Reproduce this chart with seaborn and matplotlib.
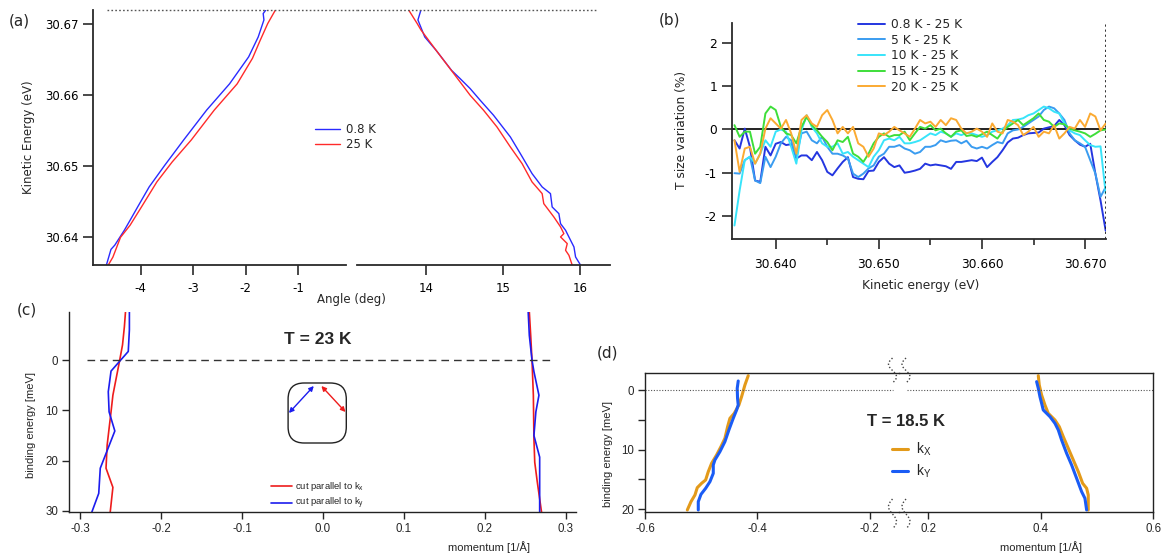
import numpy as np
import matplotlib
matplotlib.use("Agg")
import matplotlib.pyplot as plt
import seaborn as sns
from matplotlib.transforms import Affine2D
from matplotlib.patches import FancyBboxPatch, FancyArrowPatch
from matplotlib.lines import Line2D
from matplotlib.ticker import FormatStrFormatter

# ---------------- data: panel (a) ----------------
a_blue_left_angle = [-4.655, -4.568, -4.495, -4.313, -4.204, -4.058, -3.840, -3.548,
                     -3.184, -2.747, -2.310, -1.946, -1.764, -1.655, -1.669, -1.618]
a_blue_left_ke = [30.6361, 30.6383, 30.6389, 30.6410, 30.6424, 30.6443, 30.6471, 30.6501,
                  30.6537, 30.6579, 30.6616, 30.6654, 30.6682, 30.6706, 30.6715, 30.6720]
a_red_left_angle = [-4.619, -4.532, -4.386, -4.204, -3.985, -3.694, -3.403, -3.039,
                    -2.602, -2.165, -1.873, -1.728, -1.582, -1.436]
a_red_left_ke = [30.6361, 30.6372, 30.6400, 30.6417, 30.6443, 30.6478, 30.6506, 30.6537,
                 30.6579, 30.6616, 30.6652, 30.6677, 30.6701, 30.6720]
a_blue_right_angle = [13.935, 13.896, 13.985, 14.134, 14.333, 14.443, 14.574, 14.704,
                      14.878, 15.096, 15.226, 15.378, 15.509, 15.617, 15.639, 15.726,
                      15.748, 15.813, 15.878, 15.922, 15.943, 16.009]
a_blue_right_ke = [30.6720, 30.6706, 30.6682, 30.6663, 30.6635, 30.66235, 30.66094, 30.65930,
                   30.65718, 30.65413, 30.65178, 30.64897, 30.64709, 30.64615, 30.64427, 30.64333,
                   30.64192, 30.64099, 30.63958, 30.63864, 30.63723, 30.63606]
a_red_right_angle = [13.776, 13.886, 13.935, 14.134, 14.358, 14.443, 14.574, 14.748,
                     14.922, 15.096, 15.248, 15.378, 15.509, 15.530, 15.661, 15.748,
                     15.791, 15.748, 15.835, 15.813, 15.857, 15.900]
a_red_right_ke = [30.6720, 30.6701, 30.6692, 30.6663, 30.6631, 30.66188, 30.66000, 30.65789,
                  30.65554, 30.65272, 30.65038, 30.64779, 30.64615, 30.64474, 30.64286, 30.64146,
                  30.64052, 30.64005, 30.63911, 30.63817, 30.63746, 30.63606]

# ---------------- data: panel (b) ----------------
energy_b = np.round(np.arange(30.636, 30.67201, 0.0005), 4)
b_labels = ["0.8 K - 25 K", "5 K - 25 K", "10 K - 25 K", "15 K - 25 K", "20 K - 25 K"]
b_colors = ["#2436e0", "#3a9cf0", "#38e4fa", "#3ede3a", "#fbaa32"]
b_08K = [-0.25, -0.44, 0.02, -0.40, -1.18, -1.21, -0.40, -0.60, -0.33, -0.29,
         -0.36, -0.34, -0.67, -0.60, -0.60, -0.71, -0.52, -0.71, -0.98, -1.06,
         -0.90, -0.75, -0.64, -1.10, -1.14, -1.15, -0.96, -0.95, -0.75, -0.64,
         -0.79, -0.87, -0.83, -1.00, -0.98, -0.95, -0.91, -0.79, -0.83, -0.81,
         -0.83, -0.85, -0.91, -0.75, -0.75, -0.73, -0.71, -0.73, -0.65, -0.87,
         -0.75, -0.64, -0.48, -0.30, -0.21, -0.19, -0.13, -0.09, -0.08, -0.07,
         0.02, 0.05, 0.08, 0.22, 0.10, -0.13, -0.25, -0.35, -0.40, -0.33,
         -1.02, -1.64, -2.34]
b_5K = [-1.01, -1.02, -0.71, -0.63, -1.18, -1.24, -0.63, -0.87, -0.63, -0.32,
        -0.17, -0.25, -0.63, -0.09, -0.05, -0.25, -0.32, -0.17, -0.40, -0.56,
        -0.56, -0.60, -0.67, -1.02, -1.10, -1.02, -0.90, -0.83, -0.63, -0.56,
        -0.40, -0.40, -0.36, -0.44, -0.48, -0.56, -0.52, -0.40, -0.40, -0.36,
        -0.25, -0.29, -0.26, -0.25, -0.32, -0.26, -0.40, -0.44, -0.40, -0.44,
        -0.36, -0.29, -0.32, -0.09, -0.02, 0.00, 0.06, 0.14, 0.22, 0.30,
        0.45, 0.53, 0.49, 0.37, 0.22, -0.09, -0.25, -0.32, -0.40, -0.71,
        -1.02, -1.56, -1.33]
b_10K = [-2.22, -1.41, -0.71, -0.63, -0.79, -0.56, -0.25, -0.40, -0.05, 0.00,
         -0.05, -0.40, -0.79, -0.02, 0.33, 0.06, -0.09, -0.32, -0.40, -0.40,
         -0.32, -0.56, -0.52, -0.63, -0.71, -0.79, -0.87, -0.63, -0.48, -0.25,
         -0.21, -0.25, -0.17, -0.32, -0.32, -0.29, -0.25, -0.17, -0.09, -0.13,
         -0.05, -0.09, -0.17, -0.09, -0.13, -0.08, -0.09, -0.13, -0.17, -0.13,
         -0.05, -0.02, 0.02, 0.10, 0.22, 0.23, 0.26, 0.33, 0.37, 0.45,
         0.53, 0.49, 0.41, 0.37, 0.14, -0.02, -0.09, -0.13, -0.25, -0.36,
         -0.40, -0.39, -1.48]
b_15K = [0.10, -0.17, -0.05, -0.05, -0.56, -0.40, 0.37, 0.53, 0.45, 0.06,
         -0.09, -0.13, -0.32, 0.06, 0.29, 0.10, -0.02, -0.17, -0.29, -0.48,
         -0.25, -0.29, -0.17, -0.56, -0.63, -0.75, -0.56, -0.32, -0.17, -0.09,
         -0.17, -0.13, -0.13, -0.05, -0.25, -0.09, 0.06, 0.02, 0.10, -0.02,
         0.02, -0.09, -0.17, -0.05, -0.02, -0.15, -0.13, -0.17, -0.11, -0.05,
         -0.13, -0.21, -0.05, 0.06, 0.14, 0.22, 0.10, 0.18, 0.26, 0.37,
         0.22, 0.18, 0.06, 0.14, 0.12, 0.02, -0.02, -0.05, -0.09, -0.17,
         -0.10, -0.02, 0.00]
b_20K = [-0.25, -0.98, -0.44, -0.40, -0.79, -0.56, 0.02, 0.26, 0.14, 0.02,
         0.22, -0.09, -0.56, 0.22, 0.33, 0.14, 0.06, 0.33, 0.45, 0.22,
         -0.09, 0.06, -0.09, 0.06, -0.32, -0.40, -0.63, -0.44, -0.09, -0.13,
         -0.05, 0.06, -0.02, -0.09, -0.17, 0.02, 0.22, 0.14, 0.18, 0.06,
         0.22, 0.10, 0.26, 0.22, 0.02, -0.09, -0.05, 0.02, -0.05, -0.17,
         0.14, -0.05, -0.09, 0.22, 0.18, 0.10, -0.13, -0.05, 0.06, -0.17,
         -0.05, -0.09, 0.10, -0.21, -0.09, 0.06, 0.02, 0.22, 0.06, 0.37,
         0.30, -0.02, 0.14]

# ---------------- data: panel (c) ----------------
c_red_left_k = [-0.2442, -0.2456, -0.2479, -0.2517, -0.2574, -0.2598, -0.2621, -0.2645,
                -0.2669, -0.2683, -0.2598, -0.2631]
c_red_left_e = [-9.6, -6.6, -3.0, 0.3, 5.0, 7.0, 10.3, 13.6, 16.9, 21.5, 25.3, 30.2]
c_blue_left_k = [-0.2394, -0.2394, -0.2408, -0.2621, -0.2655, -0.2645, -0.2574, -0.2754,
                 -0.2773, -0.2858]
c_blue_left_e = [-9.6, -6.0, -1.7, 2.2, 6.3, 10.3, 14.1, 21.5, 26.5, 30.2]
c_red_right_k = [0.2551, 0.2568, 0.2584, 0.2601, 0.2608, 0.2618, 0.2650, 0.2703]
c_red_right_e = [-9.6, -4.9, 0.0, 7.0, 15.6, 20.3, 24.3, 30.3]
c_blue_right_k = [0.2537, 0.2551, 0.2584, 0.2608, 0.2670, 0.2632, 0.2608, 0.2679, 0.2679, 0.2679]
c_blue_right_e = [-9.6, -4.9, 0.0, 2.3, 7.0, 10.3, 15.0, 19.3, 24.3, 30.3]

# ---------------- data: panel (d) ----------------
d_kx_left_k = [-0.4163, -0.4222, -0.4281, -0.4329, -0.4412, -0.4489, -0.4530, -0.4578, -0.4649,
               -0.4726, -0.4815, -0.4874, -0.4921, -0.4993, -0.5070, -0.5111, -0.5182, -0.5247]
d_kx_left_e = [-2.40, -0.84, 1.12, 2.51, 3.91, 4.75, 6.15, 8.10, 9.50,
               10.89, 12.29, 13.69, 15.08, 15.64, 16.37, 17.60, 18.72, 20.11]
d_ky_left_k = [-0.4341, -0.4359, -0.4353, -0.4341, -0.4370, -0.4430, -0.4507, -0.4578, -0.4667,
               -0.4756, -0.4785, -0.4785, -0.4844, -0.4921, -0.5004, -0.5052, -0.5052]
d_ky_left_e = [-1.51, -0.28, 1.40, 2.51, 3.35, 4.75, 6.70, 8.66, 10.34,
               11.73, 12.57, 13.97, 15.36, 16.48, 17.49, 18.72, 20.11]
d_kx_right_k = [0.3956, 0.3973, 0.4015, 0.4074, 0.4133, 0.4252, 0.4329, 0.4400,
                0.4489, 0.4578, 0.4667, 0.4744, 0.4815, 0.4844, 0.4844]
d_kx_right_e = [-2.40, -0.84, 0.84, 2.51, 3.91, 5.03, 6.15, 7.82,
                9.78, 11.73, 13.69, 15.64, 16.48, 17.60, 20.11]
d_ky_right_k = [0.3926, 0.3956, 0.3985, 0.4015, 0.4044, 0.4163, 0.4252, 0.4311,
                0.4370, 0.4459, 0.4548, 0.4637, 0.4726, 0.4785, 0.4815]
d_ky_right_e = [-1.40, -0.28, 1.12, 2.23, 3.35, 4.47, 5.59, 6.70,
                8.38, 10.61, 12.57, 14.80, 17.04, 18.16, 20.11]

# ---------------- figure setup ----------------
sns.set_style("ticks")
plt.rcParams["font.family"] = ["DejaVu Sans"]
plt.rcParams["axes.unicode_minus"] = False
plt.rcParams["mathtext.fontset"] = "custom"
plt.rcParams["mathtext.rm"] = "Liberation Sans"
plt.rcParams["mathtext.default"] = "regular"

W, H = 1167, 555
fig = plt.figure(figsize=(W / 100, H / 100), dpi=100)
fig.patch.set_facecolor("white")
# pixel coordinates of the picture, y pointing down
pxt = Affine2D().scale(1 / W, -1 / H).translate(0, 1) + fig.transFigure


def rect(l, t, r, b):
    return [l / W, 1 - b / H, (r - l) / W, (b - t) / H]


def new_axes(l, t, r, b):
    ax = fig.add_axes(rect(l, t, r, b))
    ax.set_facecolor("none")
    return ax


def ftext(x, y, s, **kw):
    kw.setdefault("ha", "center")
    kw.setdefault("va", "center")
    fig.text(x, y, s, transform=pxt, **kw)


def tick_fonts(ax, family, size):
    for lbl in ax.get_xticklabels() + ax.get_yticklabels():
        lbl.set_fontfamily(family)
        lbl.set_fontsize(size)


def draw(ax, x, y, color, lw, label=None):
    sns.lineplot(x=x, y=y, ax=ax, color=color, linewidth=lw, estimator=None,
                 sort=False, label=label)


SPC = "#2a2a2a"

# ---------------- panel (a) ----------------
axa1 = new_axes(92.6, 10, 346.3, 265)
axa2 = new_axes(357, 10, 610, 265)
draw(axa1, a_blue_left_angle, a_blue_left_ke, "#2a2aff", 1.0, "0.8 K")
draw(axa1, a_red_left_angle, a_red_left_ke, "#ff2a2a", 1.0, "25 K")
draw(axa2, a_blue_right_angle, a_blue_right_ke, "#2a2aff", 1.0)
draw(axa2, a_red_right_angle, a_red_right_ke, "#ff2a2a", 1.0)
for ax in (axa1, axa2):
    ax.set_ylim(30.6361, 30.6720)
    ax.set_xlabel("")
    ax.set_ylabel("")
    for s in ("top", "right"):
        ax.spines[s].set_visible(False)
    for s in ax.spines.values():
        s.set_color(SPC)
        s.set_linewidth(1.3)
    ax.tick_params(axis="x", length=7, width=1.2, pad=5, colors=SPC, labelcolor="black")
    ax.tick_params(axis="y", length=7, width=1.2, pad=3, colors=SPC, labelcolor="black")
axa1.set_xlim(-4.918, -0.086)
axa2.set_xlim(13.105, 16.39)
axa1.set_xticks([-4, -3, -2, -1])
axa1.set_yticks([30.64, 30.65, 30.66, 30.67])
axa1.yaxis.set_major_formatter(FormatStrFormatter("%.2f"))
axa2.set_xticks([14, 15, 16])
axa2.spines["left"].set_visible(False)
axa2.set_yticks([])
axa1.axhline(30.672, xmin=(107 - 92.6) / 253.7, xmax=1 + 11 / 253.7, clip_on=False,
             color="#555555", lw=1.0, ls=(0, (1.2, 1.6)))
axa2.axhline(30.672, xmin=0, xmax=(598.3 - 357) / 253, clip_on=False,
             color="#555555", lw=1.0, ls=(0, (1.2, 1.6)))
tick_fonts(axa1, "DejaVu Sans", 8.5)
tick_fonts(axa2, "DejaVu Sans", 8.5)
leg = axa1.legend(loc="upper left", bbox_to_anchor=(315, 123), bbox_transform=pxt,
                  frameon=False, fontsize=8.5, handlelength=2.15, handletextpad=0.45,
                  labelspacing=0.2, borderpad=0, borderaxespad=0)
leg.set_zorder(10)
ftext(19, 21, "(a)", fontsize=11)
ftext(28.7, 137.5, "Kinetic Energy (eV)", fontsize=8.5, rotation=90)
ftext(351, 300, "Angle (deg)", fontsize=8.5)

# ---------------- panel (b) ----------------
axb = new_axes(732.2, 23, 1106.2, 239)
b_series = [b_08K, b_5K, b_10K, b_15K, b_20K]
for vals, col, lab in zip(b_series, b_colors, b_labels):
    draw(axb, energy_b, vals, col, 1.4, lab)
axb.axhline(0, color="#111111", lw=1.3, zorder=1)
axb.axvline(30.672, color="#222222", lw=1.3, ls=(0, (1.2, 1.6)))
axb.set_xlim(30.63578, 30.67205)
axb.set_ylim(-2.532, 2.462)
axb.set_xlabel("")
axb.set_ylabel("")
axb.set_xticks([30.64, 30.65, 30.66, 30.67])
axb.set_xticks([30.645, 30.655, 30.665], minor=True)
axb.xaxis.set_major_formatter(FormatStrFormatter("%.3f"))
axb.set_yticks([-2, -1, 0, 1, 2])
for s in ("top", "right"):
    axb.spines[s].set_visible(False)
for s in axb.spines.values():
    s.set_color(SPC)
    s.set_linewidth(1.3)
axb.tick_params(axis="x", which="major", length=7, width=1.2, pad=7, colors=SPC, labelcolor="black")
axb.tick_params(axis="x", which="minor", length=4.5, width=1.2, colors=SPC)
axb.tick_params(axis="y", length=7, width=1.2, pad=4, colors=SPC, labelcolor="black")
tick_fonts(axb, "DejaVu Sans", 8.8)
axb.legend(loc="upper left", bbox_to_anchor=(857.8, 18), bbox_transform=pxt,
           frameon=False, fontsize=8.8, handlelength=2.2, handletextpad=0.5,
           labelspacing=0.22, borderpad=0, borderaxespad=0)
ftext(670, 20, "(b)", fontsize=11)
ftext(682, 130, "T size variation (%)", fontsize=8.8, rotation=90)
ftext(920.5, 285, "Kinetic energy (eV)", fontsize=8.8)

# ---------------- panel (c) ----------------
SANS = "Liberation Sans"
axc = new_axes(69.3, 311.7, 575.9, 512.3)
draw(axc, c_red_left_k, c_red_left_e, "#ee1c1c", 1.2, "cut parallel to k$_x$")
draw(axc, c_blue_left_k, c_blue_left_e, "#1c1cee", 1.2, "cut parallel to k$_y$")
draw(axc, c_red_right_k, c_red_right_e, "#ee1c1c", 1.2)
draw(axc, c_blue_right_k, c_blue_right_e, "#1c1cee", 1.2)
axc.hlines(0, -0.2916, 0.2809, colors="#333333", lw=1.0, linestyles=(0, (5.5, 3.6)))
axc.set_xlim(-0.3137, 0.3127)
axc.set_ylim(30.26, -9.6)
axc.set_xlabel("")
axc.set_ylabel("")
axc.set_xticks([-0.3, -0.2, -0.1, 0.0, 0.1, 0.2, 0.3])
axc.xaxis.set_major_formatter(FormatStrFormatter("%.1f"))
axc.set_yticks([0, 10, 20, 30])
for s in ("top", "right"):
    axc.spines[s].set_visible(False)
for s in axc.spines.values():
    s.set_color("#222222")
    s.set_linewidth(1.0)
axc.tick_params(axis="x", length=5, width=1.0, pad=3)
axc.tick_params(axis="y", length=5, width=1.0, pad=3)
tick_fonts(axc, SANS, 8.3)
leg = axc.legend(loc="upper left", bbox_to_anchor=(270.9, 480), bbox_transform=pxt,
                 frameon=False, fontsize=6.8, handlelength=2.2, handletextpad=0.35,
                 labelspacing=0.35, borderpad=0, borderaxespad=0)
for t in leg.get_texts():
    t.set_fontfamily(SANS)
ftext(317.6, 340, "T = 23 K", fontsize=12.5, fontweight="bold", family=SANS)
ftext(26.5, 310, "(c)", fontsize=11)
ftext(31.5, 425, "binding energy [meV]", fontsize=8, rotation=90, family=SANS)
ftext(488.8, 546.7, "momentum [1/\u00c5]", fontsize=8, family=SANS)

# Fermi surface sketch with the two cut directions
box = FancyBboxPatch((288.1, H - 443), 58.2, 60, boxstyle="round,pad=0,rounding_size=16",
                     transform=Affine2D().scale(1 / W, 1 / H) + fig.transFigure,
                     fill=False, edgecolor="#222222", lw=1.0)
fig.patches.append(box)
for (x0, y0, x1, y1, col) in [(313.8, 386, 288.9, 413, "#1c1cee"),
                              (321.4, 386, 345.5, 412, "#ee1c1c")]:
    arr = FancyArrowPatch((x0, y0), (x1, y1), transform=pxt, arrowstyle="<|-|>",
                          mutation_scale=7, color=col, lw=1.0, shrinkA=0, shrinkB=0)
    fig.patches.append(arr)

# ---------------- panel (d) ----------------
axd1 = new_axes(645, 372.7, 899, 512.3)
axd2 = new_axes(899, 372.7, 1153.3, 512.3)
ORG, BLU = "#e39a1a", "#1a5cf5"
draw(axd1, d_kx_left_k, d_kx_left_e, ORG, 2.2)
draw(axd1, d_ky_left_k, d_ky_left_e, BLU, 2.2)
draw(axd2, d_kx_right_k, d_kx_right_e, ORG, 2.2, "k$_X$")
draw(axd2, d_ky_right_k, d_ky_right_e, BLU, 2.2, "k$_Y$")
axd1.set_xlim(-0.6, -0.148)
axd2.set_xlim(0.148, 0.6)
for ax in (axd1, axd2):
    ax.set_ylim(20.5, -2.9)
    ax.set_xlabel("")
    ax.set_ylabel("")
    for s in ax.spines.values():
        s.set_color("#222222")
        s.set_linewidth(1.0)
    ax.tick_params(axis="both", length=5, width=1.0, pad=3)
axd1.spines["right"].set_visible(False)
axd2.spines["left"].set_visible(False)
axd1.set_xticks([-0.6, -0.4, -0.2])
axd2.set_xticks([0.2, 0.4, 0.6])
axd1.xaxis.set_major_formatter(FormatStrFormatter("%.1f"))
axd2.xaxis.set_major_formatter(FormatStrFormatter("%.1f"))
axd1.set_yticks([0, 5, 10, 15, 20])
axd1.set_yticklabels(["0", "", "10", "", "20"])
axd2.set_yticks([])
axd1.axhline(0, xmax=(893 - 645) / 254, color="#555555", lw=0.8, ls=(0, (1, 1.5)))
axd2.axhline(0, xmin=(907 - 899) / 254.3, color="#555555", lw=0.8, ls=(0, (1, 1.5)))
tick_fonts(axd1, SANS, 8.3)
tick_fonts(axd2, SANS, 8.3)
leg = axd2.legend(loc="upper left", bbox_to_anchor=(891.7, 441), bbox_transform=pxt,
                  frameon=False, fontsize=10, handlelength=1.2, handletextpad=0.55,
                  labelspacing=0.3, borderpad=0, borderaxespad=0)
for t in leg.get_texts():
    t.set_fontfamily(SANS)
ftext(905.7, 421.7, "T = 18.5 K", fontsize=12, fontweight="bold", family=SANS)
ftext(608, 353, "(d)", fontsize=11)
ftext(608.3, 454, "binding energy [meV]", fontsize=8, rotation=90, family=SANS)
ftext(1040.8, 547.3, "momentum [1/\u00c5]", fontsize=8, family=SANS)

# axis-break marks
t = np.linspace(0, 1, 40)
for y0, y1 in [(358, 383), (499, 529)]:
    for xc in (892.5, 906):
        xs = xc - 4 * np.sin(2 * np.pi * t)
        ys = y0 + (y1 - y0) * t
        fig.lines.append(Line2D(xs, ys, transform=pxt, color="#444444", lw=1.0,
                                ls=(0, (1, 1.5))))

fig.savefig("out.png", dpi=100, facecolor="white")
